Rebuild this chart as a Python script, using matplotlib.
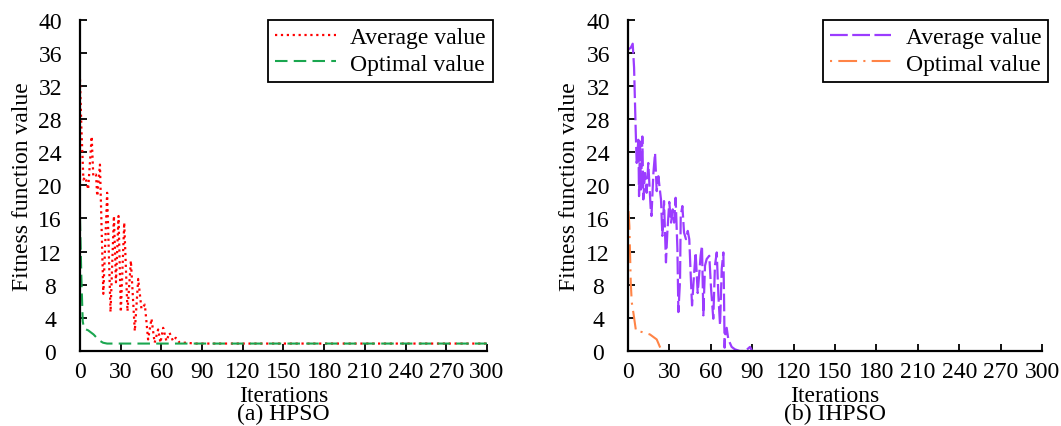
import matplotlib
matplotlib.use("Agg")
import matplotlib.pyplot as plt

plt.rcParams['font.family'] = ['Liberation Serif', 'DejaVu Serif']
plt.rcParams['font.size'] = 17

# (a) HPSO
avg_a_x = [0, 1, 2.5, 4, 6, 8.6, 9.8, 11.8, 12.7, 14.7, 17.2, 20, 22.5, 25, 26.5, 28.4, 30.1,
           32.6, 35, 37.5, 40.4, 42.9, 45.3, 47.8, 50.2, 52.7, 55, 57.6, 59.3, 61.3, 63.7,
           66, 68.6, 70.6, 73.5, 78, 85, 300]
avg_a_y = [32.8, 27, 20.7, 21, 19.5, 25.9, 21.1, 21.3, 18.7, 22.5, 6.9, 19.1, 4.7, 16.3, 8.3,
           16.3, 4.7, 15.5, 4.8, 10.9, 2.4, 8.7, 5.1, 5.6, 1.4, 3.9, 1.0, 2.6, 1.0, 2.8, 1.2,
           2.2, 1.2, 1.6, 1.0, 1.0, 0.9, 0.9]
opt_a_x = [0, 1, 2, 3, 6, 10, 14, 17, 20, 300]
opt_a_y = [16, 9, 3.6, 2.7, 2.5, 2.0, 1.3, 1.0, 0.9, 0.9]

# (b) IHPSO
avg_b_x = [0, 2, 3.4, 4.4, 5.6, 6.3, 7.5, 8, 8.7, 9.4, 10.4, 11.1, 12.3, 13.5, 14.7, 16.4, 17,
           18.4, 19.6, 20.8, 22, 23.2, 23.9, 24.9, 26.1, 27.5, 28.5, 29.9, 31.2, 32.4, 33.4,
           34.5, 35.8, 36.5, 37.7, 38.2, 39.4, 40.6, 42, 43.3, 44.4, 45.4, 46.4, 47.8, 49,
           50.5, 51.7, 52.6, 53.6, 54.6, 55.8, 57, 58.9, 60.2, 61.8, 63, 64.3, 65.5, 66.7,
           67.9, 69.1, 69.6, 70.0, 70.3, 71.5, 72.7, 75.1, 77.5, 81, 85, 88.4, 90]
avg_b_y = [36.4, 36.6, 37.1, 34.2, 26.5, 22.7, 25.5, 18.7, 25.5, 19.5, 25.9, 18.3, 21.5, 19.1,
           22.7, 17.3, 16.3, 21.5, 23.9, 19.3, 21.1, 19.3, 18.3, 13.9, 18.1, 10.7, 14.3, 18,
           15.5, 17.1, 15.5, 18.5, 12.3, 4.7, 8.5, 16.3, 17.5, 14.3, 13.5, 14.5, 13.5, 9.3,
           5.5, 9.1, 11.9, 7.0, 9.5, 11.5, 12.7, 4.3, 10.3, 11.1, 11.5, 7.5, 3.9, 10.3, 11.9,
           6.7, 3.1, 9.9, 11.9, 6.3, 0.4, 1.8, 2.8, 1.4, 0.5, 0.2, 0, 0, 0.5, 0]
opt_b_x = [0, 1, 2, 2.7, 4, 5.8, 10, 15.9, 20.8, 24.4, 28]
opt_b_y = [17.9, 15.1, 8.3, 5.9, 4.5, 2.4, 2.3, 2.0, 1.4, 0, 0]

x_ticks = list(range(0, 301, 30))
y_ticks = list(range(0, 41, 4))

fig = plt.figure(figsize=(10.61, 4.27), dpi=100)
ax1 = fig.add_axes([0.0754, 0.1756, 0.3836, 0.776])
ax2 = fig.add_axes([0.5919, 0.1756, 0.3902, 0.776])

ax1.plot(avg_a_x, avg_a_y, color='#ff0000', lw=1.6, ls=':', label='Average value')
ax1.plot(opt_a_x, opt_a_y, color='#1aa64f', lw=1.5, dashes=(6, 3), label='Optimal value')

ax2.plot(avg_b_x, avg_b_y, color='#9b3cff', lw=1.6, dashes=(8, 2), label='Average value')
ax2.plot(opt_b_x, opt_b_y, color='#ff8446', lw=1.5, dashes=(1, 3, 9, 3), label='Optimal value')

for ax, cap in [(ax1, '(a) HPSO'), (ax2, '(b) IHPSO')]:
    ax.set_xlim(0, 300)
    ax.set_ylim(0, 40)
    ax.set_xticks(x_ticks)
    ax.set_yticks(y_ticks)
    ax.spines['top'].set_visible(False)
    ax.spines['right'].set_visible(False)
    ax.spines['left'].set_linewidth(1.6)
    ax.spines['bottom'].set_linewidth(1.6)
    ax.tick_params(direction='in', width=1.3, length=5, labelsize=17)
    ax.tick_params(axis='x', pad=7)
    ax.tick_params(axis='y', pad=21.5)
    for lab in ax.get_yticklabels():
        lab.set_horizontalalignment('center')
    ax.set_xlabel('Iterations\n' + cap, fontsize=17, labelpad=2, linespacing=0.86)
    ax.set_ylabel('Fitness function value', fontsize=17)
    ax.yaxis.set_label_coords(-0.115, 0.5)
    leg = ax.legend(loc='upper right', bbox_to_anchor=(1.015, 1.0), fontsize=17,
                    handlelength=2.6, handletextpad=0.6, borderpad=0.3, labelspacing=0.2,
                    fancybox=False, edgecolor='black', framealpha=1, borderaxespad=0)
    leg.get_frame().set_linewidth(1.3)

fig.savefig('out.png', dpi=100)
